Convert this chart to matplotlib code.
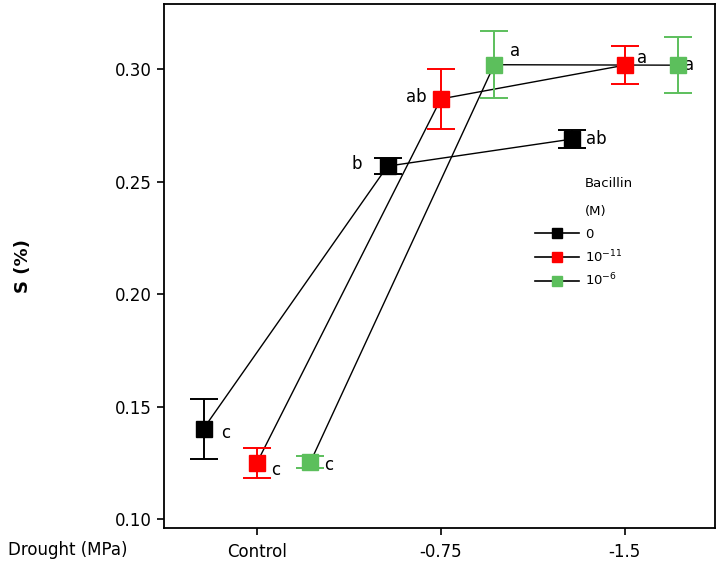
import numpy as np
import matplotlib
matplotlib.use("Agg")
from matplotlib import pyplot as plt
from matplotlib.lines import Line2D

# data
drought = ["Control", "-0.75", "-1.5"]
series = ["0", r"10$^{-11}$", r"10$^{-6}$"]
colors = ["black", "#ff0000", "#5cbf5c"]

s_0 = [0.1402, 0.2569, 0.2689]
s_11 = [0.1250, 0.2868, 0.3018]
s_6 = [0.1252, 0.3020, 0.3018]

err_0 = [0.0133, 0.0035, 0.0040]
err_11 = [0.0067, 0.0135, 0.0085]
err_6 = [0.0027, 0.0150, 0.0125]

letters_0 = ["c", "b", "ab"]
letters_11 = ["c", "ab", "a"]
letters_6 = ["c", "a", "a"]

means = [s_0, s_11, s_6]
errs = [err_0, err_11, err_6]
letters = [letters_0, letters_11, letters_6]

# label offsets in pixels (dx, dy, ha) for each series/point
label_off = [
    [(18, -4, "left"), (-26, 2, "right"), (14, 0, "left")],
    [(14, -7, "left"), (-14, 2, "right"), (12, 7, "left")],
    [(14, -3, "left"), (16, 14, "left"), (6, 0, "left")],
]

offsets = [-0.29, 0.0, 0.29]

W, H = 718, 566
fig = plt.figure(figsize=(W / 100, H / 100), dpi=100)
ax = fig.add_axes([164 / W, 38 / H, 551 / W, 524 / H])

x = np.arange(len(drought))
for i in range(3):
    xs = x + offsets[i]
    ax.plot(xs, means[i], color="black", lw=1, zorder=2)
    ax.errorbar(xs, means[i], yerr=errs[i], fmt="none", ecolor=colors[i],
                elinewidth=1.4, capsize=10, capthick=1.4, zorder=3)
    ax.plot(xs, means[i], ls="none", marker="s", ms=11, color=colors[i],
            mec=colors[i], zorder=4)
    for j in range(3):
        dx, dy, ha = label_off[i][j]
        ax.annotate(letters[i][j], (xs[j], means[i][j]), xytext=(dx, dy),
                    textcoords="offset pixels", ha=ha, va="center", fontsize=12)

ax.set_xlim(-0.505, 2.49)
ax.set_ylim(0.096, 0.329)
ax.set_xticks(x)
ax.set_xticklabels(drought)
ax.set_yticks([0.10, 0.15, 0.20, 0.25, 0.30])
ax.set_yticklabels(["0.10", "0.15", "0.20", "0.25", "0.30"])
ax.tick_params(axis="both", labelsize=12, length=5, width=1.2, direction="out")
ax.tick_params(axis="x", pad=6)
for sp in ax.spines.values():
    sp.set_linewidth(1.3)

ax.set_ylabel("S (%)", fontsize=13, fontweight="bold", labelpad=60)
fig.text(8 / W, 1 - 550 / H, "Drought (MPa)", fontsize=12, ha="left", va="center")

# legend: title lines aligned with entry text, handles sticking out left
fig.text(585 / W, 1 - 183 / H, "Bacillin", fontsize=9.5, ha="left", va="center")
fig.text(585 / W, 1 - 212 / H, "(M)", fontsize=9.5, ha="left", va="center")
handles = [Line2D([0], [0], color="black", lw=1.2, marker="s", ms=7,
                  markerfacecolor=c, markeredgecolor=c) for c in colors]
leg = ax.legend(handles, series, loc="upper left",
                bbox_to_anchor=(535 / W, 1 - 228 / H), bbox_transform=fig.transFigure,
                frameon=False, fontsize=9.5, handlelength=3.3, handletextpad=0.5,
                labelspacing=0.55, borderpad=0, borderaxespad=0)

fig.savefig("out.png", dpi=100)
